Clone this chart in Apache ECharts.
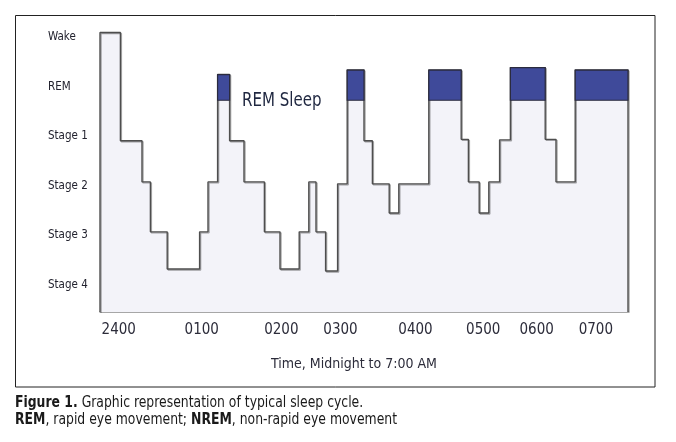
<!DOCTYPE html>
<html>
<head>
<meta charset="utf-8">
<script src="https://cdn.jsdelivr.net/npm/echarts@6/dist/echarts.min.js"></script>
<style>
html,body{margin:0;padding:0;background:#fff;}
#c{width:676px;height:442px;}
</style>
</head>
<body>
<div id="c"></div>
<script>
// Sleep stage steps: start time (minutes after midnight, as drawn) and level
const segStart = [0,17,35,42,56,83,90,98,108,120,137,150,166,174,180,188,198,206,220,227,241,249,274,301,307,316,324,333,342,371,380,396];
const segLevel = [6.10,3.91,3.08,2.07,1.32,2.07,3.08,5.25,3.91,3.08,2.07,1.32,2.07,3.08,2.07,1.28,3.04,5.34,3.91,3.04,2.45,3.04,5.34,3.94,3.08,2.45,3.08,3.93,5.39,3.94,3.08,5.34];
const endTime = 440;
// REM periods
const remStart = [98,206,274,342,396];
const remEnd = [108,220,301,371,440];
const remTop = [5.25,5.34,5.34,5.39,5.34];
const remFloor = 4.73;
// Axis labels
const yLabels = ['Stage 4','Stage 3','Stage 2','Stage 1','REM','Wake'];
const yLabelPos = [1,2,3,4,5,6];
const xLabels = ['2400','0100','0200','0300','0400','0500','0600','0700'];
const xLabelPos = [15.6,84.8,151.1,200.4,262.9,319.4,363.9,413.2];

const FONT = "'Liberation Sans Narrow','DejaVu Sans Condensed','Arial Narrow',sans-serif";
const yMin = 0.45, yMax = 6.15;

const lineData = [[segStart[0], yMin]];
segStart.forEach((t,i)=>lineData.push([t, segLevel[i]]));
lineData.push([endTime, yMin]);

const remData = remStart.map((s,i)=>[s, remEnd[i], remTop[i], remFloor]);

const chart = echarts.init(document.getElementById('c'));
chart.setOption({
  backgroundColor:'#fff',
  animation:false,
  grid:{left:100, right:48, top:30, bottom:130},
  xAxis:{
    type:'value', min:0, max:endTime,
    axisLine:{show:true, lineStyle:{color:'#8a8a8a', width:1.5}},
    axisTick:{show:false},
    splitLine:{show:false},
    axisLabel:{
      customValues:xLabelPos, margin:11,
      fontFamily:FONT, fontSize:15, color:'#2c2c3a',
      formatter:(v)=>{const i=xLabelPos.indexOf(v);return i>=0?xLabels[i]:'';}
    },
    name:'Time, Midnight to 7:00 AM', nameLocation:'middle', nameGap:45,
    nameTextStyle:{fontFamily:FONT, fontSize:14, color:'#2c2c3a', padding:[0,20,0,0]}
  },
  yAxis:{
    type:'value', min:yMin, max:yMax,
    axisLine:{show:false}, axisTick:{show:false}, splitLine:{show:false},
    axisLabel:{
      customValues:yLabelPos, margin:52, align:'left',
      fontFamily:FONT, fontSize:11.5, color:'#22222e',
      formatter:(v)=>yLabels[Math.round(v)-1]
    }
  },
  series:[
    {
      type:'line', step:'end', symbol:'none', data:lineData, z:2,
      lineStyle:{color:'#4e4e4e', width:1.4, shadowColor:'rgba(0,0,0,0.35)', shadowOffsetX:1, shadowOffsetY:1, shadowBlur:0},
      areaStyle:{color:'#f3f3f9', origin:'start', opacity:1}
    },
    {
      type:'custom', z:3, data:remData, encode:{x:[0,1], y:[2,3]},
      renderItem:(params, api)=>{
        const p0 = api.coord([api.value(0), api.value(3)]);
        const p1 = api.coord([api.value(1), api.value(2)]);
        return {type:'rect', shape:{x:p0[0], y:p1[1], width:p1[0]-p0[0], height:p0[1]-p1[1]},
          style:{fill:'#3f4a9a', stroke:'#2b2b3e', lineWidth:1.2}};
      }
    }
  ],
  graphic:[
    {type:'rect', silent:true, shape:{x:15.5, y:15.5, width:639.5, height:371.5},
      style:{fill:null, stroke:'#222', lineWidth:1}},
    {type:'text', left:242, top:92, scaleX:0.88, style:{text:'REM Sleep', font:"19px "+FONT, fill:'#1f2740'}},
    {type:'text', left:375, top:264, scaleX:0.88, style:{text:'NREM Sleep', font:"19px "+FONT, fill:'#1f2740'}},
    {type:'text', left:15, top:396, scaleX:0.92, style:{
      text:'{b|Figure 1.} Graphic representation of typical sleep cycle.',
      font:"15px "+FONT, fill:'#1a1a1a',
      rich:{b:{fontWeight:'bold', fontFamily:FONT, fontSize:15, fill:'#1a1a1a'}}}},
    {type:'text', left:15, top:413, scaleX:0.92, style:{
      text:'{b|REM}, rapid eye movement; {b|NREM}, non-rapid eye movement',
      font:"15px "+FONT, fill:'#1a1a1a',
      rich:{b:{fontWeight:'bold', fontFamily:FONT, fontSize:15, fill:'#1a1a1a'}}}}
  ]
});
</script>
</body>
</html>
